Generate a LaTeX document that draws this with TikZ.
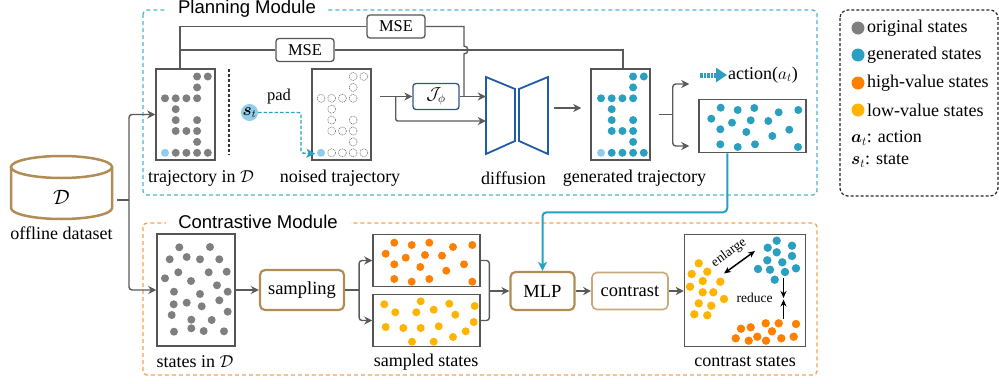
\documentclass[tikz,border=0pt]{standalone}
\usepackage{amsmath}
\usepackage{fontspec}
\setmainfont{Liberation Serif}
\newfontfamily\titlefont{Liberation Sans}
\usetikzlibrary{arrows.meta,calc}

\definecolor{edge}{HTML}{555555}
\definecolor{wire}{HTML}{5A5A5A}
\definecolor{dotgray}{HTML}{7F7F7F}
\definecolor{tealdot}{HTML}{2A9FC0}
\definecolor{lightdot}{HTML}{8FCDE8}
\definecolor{hidot}{HTML}{FF8000}
\definecolor{lodot}{HTML}{FFB400}
\definecolor{brownb}{HTML}{B08D57}
\definecolor{brownl}{HTML}{C9A97A}
\definecolor{planc}{HTML}{4DB4D2}
\definecolor{contc}{HTML}{F7A14A}
\definecolor{diffc}{HTML}{1F5BA8}
\definecolor{jphic}{HTML}{34557F}

\tikzset{
  panel/.style={draw=edge, line width=1.5pt, inner sep=0pt},
  wirel/.style={draw=wire, line width=1.4pt},
  arr/.style={wirel, -{Stealth[length=8pt,width=8pt,inset=2.5pt]}},
  lbl/.style={font=\fontsize{18}{20}\selectfont, inner sep=0pt},
  msebox/.style={draw=edge, line width=1.3pt, rounded corners=3pt, minimum width=58pt,
    minimum height=23pt, inner sep=0pt, font=\fontsize{16.5}{18}\selectfont},
  procbox/.style={draw=brownb, line width=2.2pt, rounded corners=5pt, inner sep=0pt,
    font=\fontsize{18.5}{20}\selectfont},
  modtitle/.style={fill=white, font=\titlefont\fontsize{18.5}{20}\selectfont,
    inner xsep=12pt, inner ysep=1pt},
  smalltxt/.style={font=\fontsize{13.5}{15}\selectfont, inner sep=0pt},
}

% dots of one trajectory: #1 x of first column, #2 y of first row, #3 path options
\newcommand\trajdots[3]{%
  \foreach \c/\r in {3/0,4/0,3/1,0/2,1/2,2/2,3/2,1/3,1/4,3/4,1/5,2/5,3/5,3/6,1/7,2/7,3/7,4/7}
    \path[#3] (#1+\c*10.7, #2+\r*10.9) circle[radius=4];
  \fill[lightdot] (#1, #2+7*10.9) circle[radius=4];
}

\begin{document}
\begin{tikzpicture}[x=1pt,y=-1pt]
\useasboundingbox (0,0) rectangle (999,383);

% ---------- module frames ----------
\draw[planc, line width=1.3pt, dash pattern=on 4pt off 3pt, rounded corners=4pt]
  (143,10) rectangle (817,195);
\node[modtitle] (plantitle) at (247,9) {Planning Module};
\draw[contc, line width=1.3pt, dash pattern=on 4pt off 3pt, rounded corners=4pt]
  (143,223) rectangle (817,375);
\node[modtitle] (conttitle) at (258,222) {Contrastive Module};

% ---------- legend ----------
\draw[black!85, line width=1.2pt, dash pattern=on 3pt off 2pt, rounded corners=8pt]
  (840,10) rectangle (998,196);
\foreach \y/\c/\t [count=\i] in {28/dotgray/original states, 55/tealdot/generated states,
    83/hidot/high-value states, 110/lodot/low-value states} {
  \fill[\c] (858,\y) circle[radius=6.5];
  \node[lbl, anchor=west] (leg\i) at (867,\y) {\t};
}
\node[lbl, anchor=west] (lega) at (851,138) {$\boldsymbol{a}_t$: action};
\node[lbl, anchor=west] (legs) at (851,161) {$\boldsymbol{s}_t$: state};

% ---------- offline dataset ----------
\draw[brownb, line width=2.5pt] (11,167) -- (11,208) arc[start angle=180, end angle=0,
  x radius=50.5, y radius=11] -- (112,167);
\draw[brownb, line width=2.5pt] (61.5,167) ellipse[x radius=50.5, y radius=11];
\node[lbl, font=\fontsize{21}{23}\selectfont] (dbname) at (61.5,197) {$\mathcal{D}$};
\node[lbl] (dblbl) at (61.5,233) {offline dataset};
\coordinate (dbout) at (117,200);
\coordinate (fork) at (129,200);

% ---------- planning module ----------
\node[panel, minimum width=59pt, minimum height=91pt] (traj) at (185.5,114.5) {};
\trajdots{165}{76.5}{fill=dotgray}
\node[lbl] (trajlbl) at (201,178) {trajectory in $\mathcal{D}$};

\draw[black!80, line width=1.2pt, dash pattern=on 3pt off 2pt] (229,69) -- (229,155);

\node[circle, fill=lightdot, minimum size=17pt, inner sep=0pt,
  font=\fontsize{16}{18}\selectfont] (st) at (249.5,112.5) {$\boldsymbol{s}_t$};
\node[lbl, font=\fontsize{16.5}{18}\selectfont] (padlbl) at (279,97) {pad};

\node[panel, minimum width=59pt, minimum height=91pt] (noised) at (341.5,114.5) {};
\trajdots{321}{76.5}{draw=black!55, line width=0.6pt, dash pattern=on 1pt off 0.8pt}
\node[lbl] (noisedlbl) at (340,178) {noised trajectory};

\draw[tealdot, line width=1.3pt, dash pattern=on 3.5pt off 2pt, rounded corners=2pt,
  -{Stealth[length=9pt,width=9pt,inset=2.5pt]}]
  (st.east) -- (301,112.5) -- (301,153) -- ($(noised.south west)+(4,-7)$);

\node[msebox] (mse1) at (396,26.5) {MSE};
\node[msebox] (mse2) at (305,50) {MSE};

\node[draw=jphic, line width=1.3pt, rounded corners=3pt, minimum width=46pt,
  minimum height=26pt, inner sep=0pt, font=\fontsize{18}{20}\selectfont]
  (jphi) at (436,96.5) {$\mathcal{J}_\phi$};

\node[minimum width=62pt, minimum height=77pt, inner sep=0pt] (diff) at (517,115.5) {};
\draw[diffc, line width=1.8pt, line join=miter]
  (486,77) -- (515,89) -- (515,141) -- (486,154) -- cycle;
\draw[diffc, line width=1.8pt, line join=miter]
  (519,89) -- (548,77) -- (548,154) -- (519,141) -- cycle;
\node[lbl] (difflbl) at (513.5,178) {diffusion};

\node[panel, minimum width=59pt, minimum height=91pt] (gen) at (620.5,114.5) {};
\trajdots{601}{76.5}{fill=tealdot}
\node[lbl] (genlbl) at (634.5,178) {generated trajectory};

\draw[tealdot, line width=5pt, dash pattern=on 2.5pt off 1pt,
  -{Triangle[length=11pt,width=14pt]}] (700,75) -- (727,75);
\node[lbl, anchor=west] (act) at (728,75) {action($a_t$)};

\node[panel, minimum width=107pt, minimum height=53pt] (genstates) at (752.5,126) {};
\foreach \p in {(720.7,107.7),(737.7,110),(754.3,108),(778.7,112.3),(798.3,110),
    (711.3,118.7),(732,122.7),(750.7,120.3),(768.3,121),(720.3,129.3),(746.3,132),
    (772.3,136),(789.3,129.7),(720.3,144.3),(737.7,147),(755,144.3),(798,147)}
  \fill[tealdot] \p circle[radius=4];

% ---------- contrastive module ----------
\node[panel, minimum width=78pt, minimum height=112pt] (states) at (196,290) {};
\foreach \p in {(179.3,247.3),(210,247),(169.7,259.3),(186.7,257),(200,259.3),
    (219.3,259.3),(178.3,272.3),(208.7,272.3),(226.7,271.7),(165,278.3),(191,281),
    (217,285.3),(174,291.7),(200,294),(227.7,291.7),(173.7,304.3),(186.7,302.7),
    (201.7,306.3),(219.3,300.3),(171.7,315),(227.7,311.7),(191.3,319.7),(211.7,320),
    (174,331.7),(191.3,328.3),(203.7,331),(224,331.3)}
  \fill[dotgray] \p circle[radius=4];
\node[lbl] (stateslbl) at (195,362) {states in $\mathcal{D}$};

\node[procbox, minimum width=84pt, minimum height=40pt] (sampling) at (302,290) {sampling};

\node[panel, minimum width=107pt, minimum height=52pt] (high) at (426.5,260.5) {};
\foreach \p in {(394.3,242.7),(411.7,245),(429.3,242.7),(453,247),(472.3,245),
    (385.7,253.7),(405.7,257.7),(425,255),(442,255.7),(464,264.3),(394.3,264.3),
    (420.3,267),(446.3,270.7),(394.3,279),(411.7,281.7),(429.3,279),(472.3,281.7)}
  \fill[hidot] \p circle[radius=4];
\node[panel, minimum width=107pt, minimum height=52pt] (low) at (426.5,320.5) {};
\foreach \p in {(384.3,304.3),(395.3,312.3),(420.7,301.3),(416.3,312.3),(433.7,309.7),
    (449.3,303.7),(455.3,314.7),(474.7,306),(385.7,327),(403.3,328),(420.7,328),
    (438.7,326.3),(465.7,331.3),(473.7,322),(412,341.7),(433.7,341.7),(453,337)}
  \fill[lodot] \p circle[radius=4];
\node[lbl] (sampledlbl) at (426,362) {sampled states};

\node[procbox, minimum width=64pt, minimum height=38pt] (mlp) at (542.5,291) {MLP};
\node[procbox, draw=brownl, line width=1.6pt, minimum width=76pt, minimum height=37pt]
  (contrast) at (630,291) {contrast};

\node[panel, minimum width=121pt, minimum height=112pt] (cstates) at (745,290.5) {};
\foreach \p in {(698.7,263.3),(691.7,274),(707.3,271.7),(702.7,281),(720.3,281.7),
    (690,286.7),(702.7,292.3),(713.3,292.3),(724,299),(698.7,303.3),(711.3,305.7),
    (694.3,314.3),(707.3,315.3)}
  \fill[lodot] \p circle[radius=4.2];
\foreach \p in {(776.7,240.7),(792,245.7),(767.7,247.7),(776.7,252.3),(792,256),
    (767.3,260.3),(782.3,262.3),(758,269),(770,269.7),(785,272),(796,268.3),(774.7,279.7)}
  \fill[tealdot] \p circle[radius=4.2];
\foreach \p in {(741,328.7),(750.7,327.3),(765.7,323.3),(778.7,323.3),(796,324),
    (735.7,338.3),(748.7,340.7),(757.3,336.7),(766,340.7),(772,331.3),(781.3,338.3),
    (793.7,336.7)}
  \fill[hidot] \p circle[radius=4.2];
\coordinate (enlA) at (724,273.5);
\coordinate (enlB) at (755,251);
\draw[black, line width=1.5pt, {Stealth[length=7pt,width=6pt]}-{Stealth[length=7pt,width=6pt]}]
  (enlA) -- (enlB);
\node[smalltxt, rotate=36] (enltxt) at (729,253) {enlarge};
\coordinate (redT) at (783.5,278);
\coordinate (redB) at (783.5,319);
\draw[black, line width=1.5pt, -{Stealth[length=7pt,width=6pt]}] (redT) -- (783.5,298);
\draw[black, line width=1.5pt, -{Stealth[length=7pt,width=6pt]}] (redB) -- (783.5,299.5);
\node[smalltxt] (redtxt) at (754.5,298) {reduce};
\node[lbl] (cstateslbl) at (745,362) {contrast states};

% ---------- connectors ----------
\draw[wirel] (dbout) -- (fork);
\draw[arr, rounded corners=3pt] (fork) |- (traj.west);
\draw[arr, rounded corners=3pt] (fork) |- (states.west);

\coordinate (tap) at ($(traj.north)+(-5.5,0)$);
\draw[wirel] (tap) |- (mse1.west);
\draw[wirel] (tap |- mse2.west) -- (mse2.west);
\draw[wirel] (mse1.east) -- (464,26.5) -- (464,46)
  arc[start angle=-90, end angle=90, radius=4] -- (464,96.5);
\draw[wirel] (mse2.east) -| ($(gen.north)+(2.5,0)$);

\coordinate (nout) at ($(noised.east)+(8,-18)$);
\coordinate (nsplit) at ($(nout)+(16,0)$);
\draw[arr] (nout) -- (jphi.west);
\draw[arr, rounded corners=2pt] (nsplit) |- ($(diff.west)+(0,5.5)$);
\draw[arr] (jphi.east) -- (jphi.east -| diff.west);
\draw[arr] ($(diff.east)+(6,-7.5)$) -- ($(gen.west)+(-9,-6.5)$);

\coordinate (gout) at ($(gen.east)+(8,0)$);
\coordinate (gfork) at ($(gout)+(14,0)$);
\draw[wirel] (gout) -- (gfork);
\draw[arr, rounded corners=3pt] (gfork) |- ($(genstates.west)+(-9,-42)$);
\draw[arr, rounded corners=3pt] (gfork) |- ($(genstates.west)+(-9,20)$);

\coordinate (gsout) at ($(genstates.south west)+(29,0)$);
\draw[tealdot, line width=2pt, rounded corners=4pt,
  -{Stealth[length=9pt,width=9pt,inset=2.5pt]}] (gsout) -- ++(0,59) -| (mlp.north);

\draw[arr] (states.east |- sampling.west) -- (sampling.west);
\coordinate (sfork) at ($(sampling.east)+(14,0)$);
\draw[wirel] (sampling.east) -- (sfork);
\draw[arr, rounded corners=3pt] (sfork) |- (high.west);
\draw[arr, rounded corners=3pt] (sfork) |- (low.west);

\coordinate (mjoin) at ($(mlp.west)+(-20,0)$);
\draw[wirel, rounded corners=3pt] (high.east) -| (mjoin) |- (low.east);
\draw[arr] (mjoin) -- (mlp.west);
\draw[arr] (mlp.east) -- (contrast.west);
\draw[arr] (contrast.east) -- (contrast.east -| cstates.west);
\end{tikzpicture}
\end{document}
